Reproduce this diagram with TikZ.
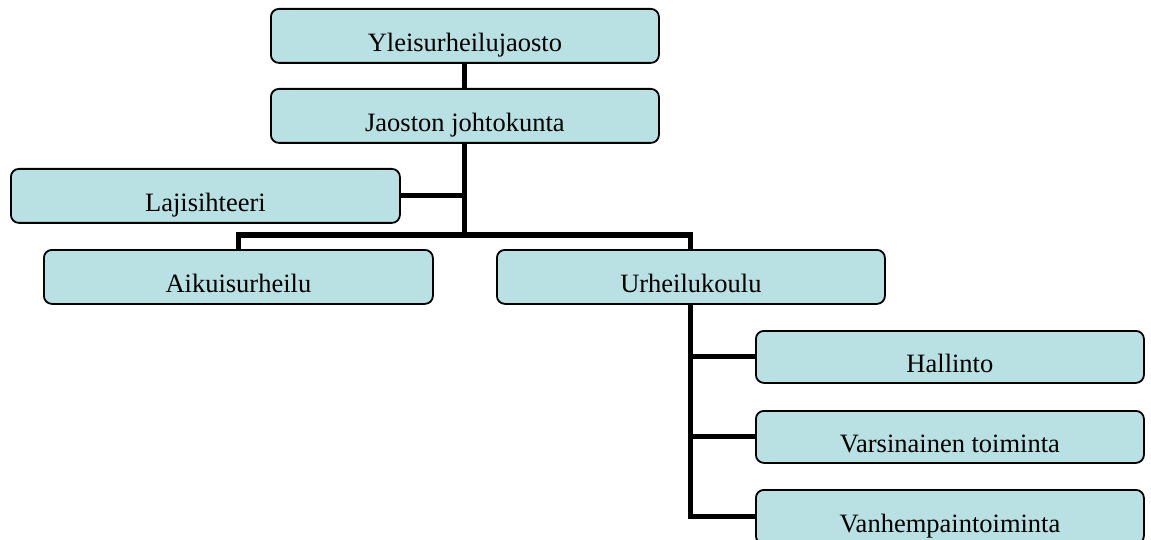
\documentclass[tikz,border=0pt]{standalone}
\usepackage{fontspec}
\setmainfont{Liberation Serif}
\usetikzlibrary{backgrounds}
\definecolor{boxfill}{RGB}{185,224,227}
\begin{document}
\begin{tikzpicture}[x=1pt,y=-1pt,
  orgbox/.style={draw=black, line width=1.8pt, rounded corners=8pt, fill=boxfill,
    anchor=north west, minimum width=388pt, minimum height=54pt, inner sep=0pt,
    text height=32pt, text depth=0pt,
    font=\fontsize{26.5}{30}\selectfont},
  conn/.style={draw=black, line width=5pt, line join=miter}]
\useasboundingbox (0,0) rectangle (1151,540);
\coordinate (bus) at (0,235);
\node[orgbox] (Y) at (270,8) {Yleisurheilujaosto};
\node[orgbox] (J) at (270,88) {Jaoston johtokunta};
\node[orgbox, minimum width=389pt] (L) at (10,168) {Lajisihteeri};
\node[orgbox, minimum width=389pt] (A) at (43,249) {Aikuisurheilu};
\node[orgbox] (U) at (496,249) {Urheilukoulu};
\node[orgbox, minimum height=52pt, text height=32pt] (H) at (755,330) {Hallinto};
\node[orgbox, minimum height=52pt, text height=32pt] (V) at (755,410) {Varsinainen toiminta};
\node[orgbox] (W) at (755,489) {Vanhempaintoiminta};
\begin{scope}[on background layer]
\draw[conn] (Y.south) -- (J.north);
\draw[conn] (J.south) -- (J.south |- bus);
\draw[conn] (L.east) -- (L.east -| J.south);
\draw[conn] (A.north) |- (U.north |- bus) -- (U.north);
\draw[conn] (U.south) |- (W.west);
\draw[conn] (U.south |- H.west) -- (H.west);
\draw[conn] (U.south |- V.west) -- (V.west);
\end{scope}
\end{tikzpicture}
\end{document}
